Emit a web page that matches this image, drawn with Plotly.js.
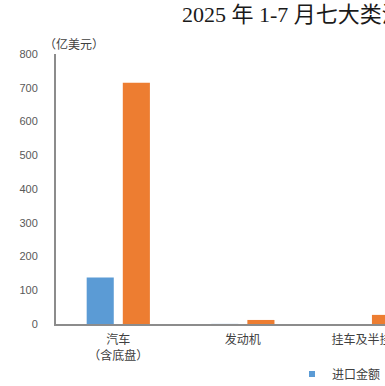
<!DOCTYPE html>
<html>
<head>
<meta charset="utf-8">
<script src="https://cdn.plot.ly/plotly-3.0.1.min.js"></script>
<style>
html,body{margin:0;padding:0;overflow:hidden;background:#fff;}
#chart{width:1000px;height:386px;}
</style>
</head>
<body>
<div id="chart"></div>
<script>
// Data (亿美元)
var categories = ['汽车<br>（含底盘）', '发动机', '挂车及半挂车'];
var importValues = [138, 0.3, 0.1];
var exportValues = [715, 12, 27];
var seriesNames = ['进口金额', '出口金额'];
var seriesColors = ['#5B9BD5', '#ED7D31'];
var titleText = '2025 年 1-7 月七大类汽车商品进出口金额';
var unitLabel = '（亿美元）';
var yTicks = [0, 100, 200, 300, 400, 500, 600, 700, 800];

var cjk = 'Liberation Sans, "Noto Sans CJK SC", sans-serif';

var traces = [
  {type: 'bar', name: seriesNames[0], x: categories, y: importValues,
   marker: {color: seriesColors[0]}, showlegend: false, legendgroup: 'imp'},
  {type: 'bar', name: seriesNames[1], x: categories, y: exportValues,
   marker: {color: seriesColors[1]}, showlegend: false, legendgroup: 'exp'},
  // legend entries with the small square key used in the reference
  {type: 'scatter', mode: 'markers', name: seriesNames[0], x: [null], y: [null],
   marker: {symbol: 'square', size: 6, color: seriesColors[0]}, legendgroup: 'imp'},
  {type: 'scatter', mode: 'markers', name: seriesNames[1], x: [null], y: [null],
   marker: {symbol: 'square', size: 6, color: seriesColors[1]}, legendgroup: 'exp'}
];

var layout = {
  width: 1000, height: 386,
  margin: {l: 56, r: 72, t: 54, b: 62, autoexpand: false},
  paper_bgcolor: '#ffffff', plot_bgcolor: '#ffffff',
  barmode: 'group', bargap: 0.42, bargroupgap: 0.25,
  title: {
    text: titleText,
    font: {family: 'Liberation Serif, "Noto Sans CJK SC", serif', size: 22, color: '#1a1a1a'},
    xref: 'container', x: 0.182, xanchor: 'left',
    yref: 'container', y: 0.962, yanchor: 'middle'
  },
  xaxis: {
    type: 'category', range: [-0.5, 6.5],
    showline: true, linecolor: '#8c8c8c', linewidth: 2,
    ticks: '', showgrid: false, zeroline: false,
    tickfont: {family: cjk, size: 12, color: '#404040'},
    ticklabelstandoff: 4
  },
  yaxis: {
    range: [0, 800], tickvals: yTicks,
    showline: true, linecolor: '#8c8c8c', linewidth: 2,
    ticks: '', showgrid: false, zeroline: false,
    tickfont: {family: cjk, size: 11, color: '#595959'},
    ticklabelstandoff: 14
  },
  legend: {
    orientation: 'h', xref: 'container', x: 0.292, xanchor: 'left',
    yref: 'container', y: 0.031, yanchor: 'middle',
    font: {family: cjk, size: 12, color: '#404040'},
    bgcolor: 'rgba(0,0,0,0)'
  },
  annotations: [{
    text: unitLabel, xref: 'paper', yref: 'paper',
    x: -0.016, y: 1.035, xanchor: 'left', yanchor: 'middle', showarrow: false,
    font: {family: cjk, size: 12, color: '#404040'}
  }],
  showlegend: true
};

Plotly.newPlot('chart', traces, layout, {displayModeBar: false, staticPlot: true});
</script>
</body>
</html>
